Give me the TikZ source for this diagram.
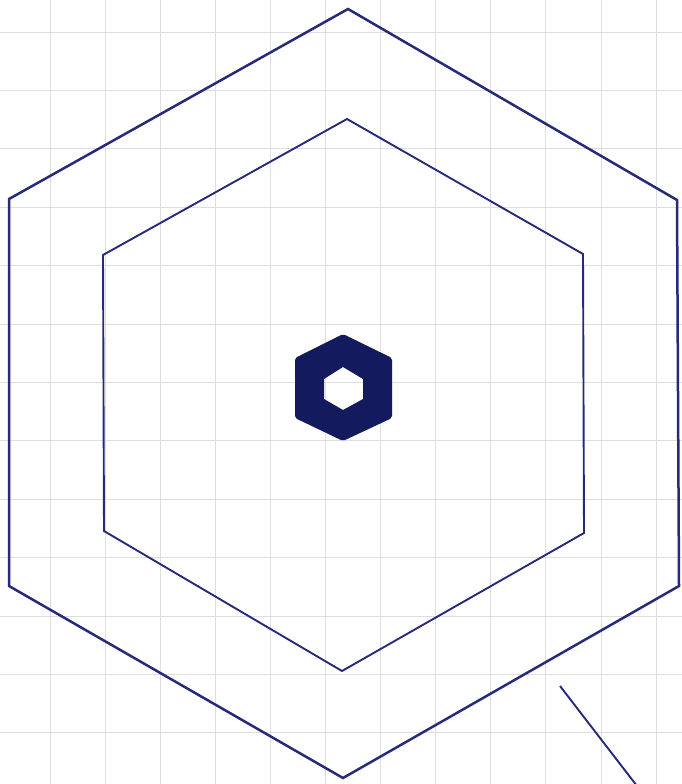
\documentclass[tikz,border=0pt]{standalone}
\begin{document}
\begin{tikzpicture}[x=1pt,y=-1pt,
  gridline/.style={draw=black!13,line width=0.9pt},
  hexline/.style={draw=navy,line width=2.5pt,line join=miter},
  innerline/.style={draw=navy,line width=1.9pt,line join=miter}]
\definecolor{navy}{RGB}{38,42,120}
\definecolor{navyfill}{RGB}{20,26,94}
\useasboundingbox (0,0) rectangle (682,784);
\fill[white] (0,0) rectangle (682,784);
% grid
\foreach \k in {0,...,11} {
  \draw[gridline] ({50+55.1*\k},0) -- ({50+55.1*\k},784);
}
\foreach \k in {0,...,12} {
  \draw[gridline] (0,{32+58.4*\k}) -- (682,{32+58.4*\k});
}
% outer hexagon
\coordinate (o1) at (348,9);
\coordinate (o2) at (677,200);
\coordinate (o3) at (679,586);
\coordinate (o4) at (343,778);
\coordinate (o5) at (9,586);
\coordinate (o6) at (9,199);
\draw[hexline] (o1) -- (o2) -- (o3) -- (o4) -- (o5) -- (o6) -- cycle;
% inner hexagon
\coordinate (i1) at (347,119);
\coordinate (i2) at (583,254);
\coordinate (i3) at (584,533);
\coordinate (i4) at (342,671);
\coordinate (i5) at (104,531);
\coordinate (i6) at (103,255);
\draw[innerline] (i1) -- (i2) -- (i3) -- (i4) -- (i5) -- (i6) -- cycle;
% central nut
\fill[navyfill,rounded corners=2pt,even odd rule]
  (343,334) -- (392,358) -- (392,418) -- (343,441) -- (295,418) -- (295,358) -- cycle
  [sharp corners] (343,367) -- (363,379) -- (363,399) -- (343,410) -- (324,399) -- (324,379) -- cycle;
% stray line
\coordinate (s1) at (560,686);
\coordinate (s2) at (637,786);
\draw[innerline] (s1) -- (s2);
\end{tikzpicture}
\end{document}
